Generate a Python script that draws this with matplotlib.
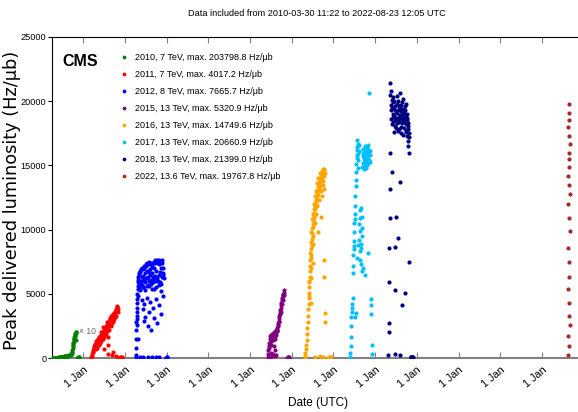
import matplotlib
matplotlib.use("Agg")
import matplotlib.pyplot as plt
import pandas as pd

# the reference text is squeezed sideways, so use the narrower Liberation face for it
NARROW = ['Liberation Sans', 'DejaVu Sans']

# ---- data (day of year, peak lumi in Hz/ub) ----
# 2010 is drawn x10
d2010 = [89, 95, 100, 105, 110, 115, 120, 125, 130, 135, 140, 145, 150, 155, 160, 165, 170, 175,
         180, 185, 190, 195, 200, 205, 210, 215, 220, 225, 230, 235, 240, 245, 250, 255, 260,
         265, 268, 270, 272, 274, 276, 278, 280, 282, 284, 286, 288, 290, 292, 294, 296, 298,
         300, 302, 304, 312, 316, 320, 324, 328, 332]
v2010 = [5, 8, 10, 12, 14, 15, 18, 20, 22, 25, 30, 35, 40, 45, 50, 55, 60, 70,
         80, 90, 100, 110, 120, 130, 140, 150, 160, 170, 180, 190, 200, 220, 240, 260, 300,
         400, 500, 650, 800, 900, 1050, 1200, 1150, 1350, 1500, 1450, 1600, 1700, 1750, 1850, 1900, 2000,
         2038, 1950, 1400, 10, 20, 30, 40, 50, 45]

d2011 = [70, 75, 78, 82, 85, 88, 92, 95, 98, 100, 104, 108, 112, 116, 120, 124, 128, 132, 136, 140,
         144, 148, 152, 156, 160, 164, 168, 172, 176, 180, 184, 188, 192, 196, 200, 204, 208, 212,
         216, 220, 224, 228, 232, 236, 240, 244, 248, 252, 256, 260, 264, 268, 272, 276, 280, 284,
         288, 292, 296, 300, 303, 306, 215, 250, 262, 290, 218, 220, 312, 318, 324, 330, 336, 342,
         110, 130, 150, 170, 190, 210, 230, 245, 270, 285,
         120, 140, 160, 180, 200, 222, 242, 258, 278, 152, 175, 205]
v2011 = [50, 150, 300, 450, 600, 500, 750, 900, 800, 1000, 1100, 950, 1200, 1300, 1400, 1250, 1500,
         1350, 1600, 1550, 1700, 1200, 1750, 1800, 1650, 1900, 2000, 1850, 2100, 2050, 700, 2200,
         2300, 2150, 2400, 2500, 2350, 2600, 2700, 2550, 2800, 2900, 3000, 3100, 2950, 3150, 3250,
         3100, 3300, 3400, 3250, 3450, 3500, 3550, 3600, 3750, 3850, 3900, 3950, 4017, 3800, 3600,
         300, 200, 500, 150, 1000, 1600, 20, 30, 40, 50, 45, 35,
         700, 1100, 1400, 1500, 1800, 2100, 2500, 2600, 3000, 3300,
         800, 1000, 1300, 1600, 1900, 2200, 2500, 2800, 3200, 2000, 2400, 2800]

d2012 = [97, 98, 99, 100, 101, 102, 103, 104, 105, 106, 107, 108, 109, 110, 111, 112, 113, 114, 115,
         116, 118, 120, 122, 124, 126, 128, 130, 133, 136, 139, 142, 145, 148, 151, 154, 157, 160,
         163, 166, 169, 172, 175, 178, 181, 184, 187, 190, 193, 196, 199, 202, 205, 208, 211, 214,
         217, 220, 223, 226, 229, 232, 235, 238, 241, 244, 247, 250, 253, 256, 259, 262, 265, 268,
         271, 274, 277, 280, 283, 286, 289, 292, 295, 298, 301, 304, 307, 310, 313, 316, 319, 322,
         325, 328, 331, 334, 337, 340,
         150, 158, 165, 172, 180, 190, 200, 210, 222, 232, 245, 258, 270, 285, 300, 315, 330,
         130, 160, 200, 240, 270, 300, 356, 360, 365, 370,
         135, 155, 175, 195, 215, 235, 255, 275, 295, 320]
v2012 = [200, 800, 50, 1500, 2200, 2800, 3300, 3600, 2600, 3900, 4300, 4600, 3000, 5000, 5400, 4800,
         5600, 5900, 6100, 1500, 6300, 5400, 6500, 5800, 6600, 5600, 6700, 5300, 6800, 6000, 6900,
         5800, 7000, 6300, 5700, 6900, 6400, 5500, 7200, 6100, 7000, 6600, 5900, 7300, 6200, 7200,
         5600, 7400, 6800, 6300, 7300, 5700, 6700, 7500, 6000, 7300, 6500, 6900, 7400, 5800, 6100,
         7300, 6600, 7100, 5900, 7400, 6300, 7000, 7500, 5400, 7600, 6400, 7400, 6000, 7500, 6800,
         7666, 6200, 7400, 6000, 7500, 6500, 7300, 7600, 5900, 7400, 6700, 7500, 5800, 7000, 7600,
         6300, 7400, 6600, 7000, 6500, 6200,
         4500, 3800, 2900, 4200, 3200, 4700, 2500, 3600, 4400, 2200, 3900, 3100, 4600, 2700, 4100, 3400, 4800,
         50, 80, 60, 40, 100, 60, 20, 30, 50, 40,
         6000, 5500, 5300, 6200, 5600, 5400, 6100, 5500, 5700, 5200]

d2015 = [158, 160, 162, 165, 168, 170, 172, 175, 178, 180, 183, 186, 188, 190, 193, 195, 198, 200,
         203, 206, 208, 210, 213, 216, 218, 220, 222, 225, 228, 230, 233, 235, 238, 240, 243, 245,
         248, 250, 253, 255, 258, 260, 263, 265, 268, 270, 273, 275, 278, 280, 283, 285, 288, 290,
         293, 296, 298, 300, 185, 200, 215, 230, 325, 330, 335, 340, 345]
v2015 = [100, 300, 600, 900, 1200, 800, 1500, 1100, 1700, 400, 1300, 1800, 1000, 1600, 200, 1900,
         1400, 1700, 1500, 1900, 900, 1800, 2000, 1500, 1700, 600, 1900, 2000, 2200, 1800, 2100, 2200,
         2300, 2100, 2500, 2700, 2600, 2900, 3100, 2800, 3300, 3500, 3400, 3700, 3900, 3600, 4100,
         4300, 4200, 4500, 4700, 4500, 4900, 4800, 5000, 5321, 5100, 4900, 100, 300, 150, 250,
         30, 50, 40, 60, 30]

d2016 = [115, 118, 121, 124, 127, 130, 133, 136, 139, 142, 145, 148, 150, 152, 154, 156, 158, 160,
         162, 164, 166, 168, 170, 172, 174, 176, 178, 180, 182, 184, 186, 188, 190, 192, 194, 196,
         198, 200, 202, 205, 208, 211, 214, 217, 220, 223, 226, 229, 232, 235, 238, 241, 244, 247,
         250, 253, 256, 259, 262, 265, 268, 271, 274, 277, 280, 283, 286, 289,
         165, 170, 190, 230, 282, 285, 288, 290, 260,
         200, 250, 275, 315, 322, 330, 338, 345,
         150, 155, 160, 165, 172, 178, 185, 190, 195, 200, 205, 210, 215, 220, 225, 230, 240, 245,
         255, 262, 270, 278, 286]
v2016 = [50, 150, 400, 700, 1000, 1400, 1900, 2300, 2800, 3300, 3800, 4200, 4700, 5100, 5500, 5900,
         6300, 6800, 7200, 7600, 7000, 8000, 8500, 7800, 8900, 9300, 8700, 9700, 10100, 9500, 10400,
         10800, 10200, 11000, 10600, 11300, 11600, 11100, 11800, 12100, 11600, 12300, 12600, 12000,
         12800, 12400, 13000, 12700, 13300, 13000, 13500, 13200, 13700, 13900, 13400, 14000, 14200,
         13800, 14400, 14100, 14600, 14750, 14300, 14500, 14650, 14200, 14700, 14400,
         4300, 6200, 7400, 9800, 7600, 6300, 3500, 2800, 11000,
         100, 150, 80, 20, 30, 40, 50, 40,
         6000, 4800, 8200, 9000, 9800, 10800, 11200, 8900, 12000, 12600, 10500, 13000, 11200, 13600,
         11800, 14000, 12300, 14400, 13000, 12600, 13500, 13800, 13200]

d2017 = [147, 149, 151, 153, 155, 157, 160, 163, 166, 168, 170, 172, 174, 176, 178, 180, 182, 184,
         186, 188, 190, 192, 194, 196, 198, 200, 202, 204, 206, 208, 210, 212, 214, 216, 218, 220,
         222, 224, 226, 228, 230, 232, 234, 236, 238, 240, 242, 244, 246, 248, 250, 252, 254, 256,
         258, 260, 262, 264, 266, 268, 270, 272, 274, 276, 278, 280, 282, 284, 286, 288, 290, 292,
         294, 296, 298, 300, 302, 304, 306, 308, 310, 313, 316, 319, 322, 325, 328, 331, 334, 337,
         185, 195, 205, 215, 260, 280, 300]
v2017 = [100, 400, 900, 1600, 2500, 3200, 3600, 4200, 3900, 4700, 6600, 7200, 8000, 8500, 9100,
         8700, 9800, 10500, 11200, 10800, 11800, 12600, 13400, 13900, 14500, 15100, 15800, 16400,
         15600, 17000, 16200, 15400, 16700, 15900, 14800, 16100, 16600, 10400, 9200, 11500, 8300,
         7600, 9900, 10900, 11700, 8900, 7300, 8600, 10100, 6800, 9500, 11000, 14900, 15700, 16300,
         15200, 16000, 15500, 14700, 16200, 15800, 15100, 16500, 15400, 14900, 15900, 16300, 15600,
         14800, 16000, 15300, 16400, 15700, 15000, 16100, 15500, 16600, 15200, 15900, 16200, 15400,
         20661, 15800, 16100, 15300, 4600, 4100, 3400, 1000, 300,
         3200, 3500, 7800, 8800, 7000, 6500, 8200]

d2018 = [116, 118, 120, 122, 124, 126, 128, 130, 132, 134, 136, 138, 140, 142, 144, 146, 148, 150,
         152, 154, 156, 158, 160, 162, 164, 166, 168, 170, 172, 174, 176, 178, 180, 182, 184, 186,
         188, 190, 192, 194, 196, 198, 200, 202, 204, 206, 208, 210, 212, 214, 216, 218, 220, 222,
         224, 226, 228, 230, 232, 234, 236, 238, 240, 242, 244, 246, 248, 250, 252, 254, 256, 258,
         260, 262, 264, 266, 268, 270, 272, 274, 276, 278, 280, 282, 284, 286, 288, 290, 292, 294,
         296, 298, 300, 176, 220, 310, 314, 318, 322, 326, 330]
v2018 = [200, 2000, 2700, 5900, 8550, 10900, 13200, 16000, 21399, 20500, 19700, 20800, 19300, 18600,
         20100, 14500, 19500, 18200, 20300, 19000, 18400, 19900, 18800, 17600, 19400, 20000, 18900,
         18100, 19600, 8650, 5300, 18500, 19200, 11000, 17900, 18700, 19800, 18300, 20400, 19100,
         17700, 18600, 20000, 19300, 9350, 18800, 19600, 17800, 18400, 19500, 20600, 18900, 13700,
         19200, 18000, 17500, 19700, 18600, 4100, 19000, 18300, 19900, 18700, 17400, 19400, 18500,
         20200, 18800, 17900, 19100, 18400, 19600, 5050, 18600, 19300, 17700, 18900, 19800, 18200,
         17600, 19000, 18500, 17300, 18700, 16500, 18100, 17800, 16900, 18300, 17500, 7500, 16000,
         17200, 300, 250, 50, 60, 80, 100, 90, 70]

d2022 = [226, 240, 230, 243, 234, 238, 228, 241, 236, 232, 244, 239, 231, 242, 235, 229, 237, 233,
         240, 245, 238, 227, 236, 241, 234]
v2022 = [200, 900, 1700, 2600, 3300, 4300, 5400, 6300, 7500, 8600, 9900, 10900, 12000, 12800,
         13500, 14200, 14900, 15500, 16000, 16700, 17300, 18000, 18500, 19100, 19768]

years = [2010, 2011, 2012, 2015, 2016, 2017, 2018, 2022]
days = [d2010, d2011, d2012, d2015, d2016, d2017, d2018, d2022]
vals = [v2010, v2011, v2012, v2015, v2016, v2017, v2018, v2022]
labels = ['2010, 7 TeV, max. 203798.8 Hz/μb',
          '2011, 7 TeV, max. 4017.2 Hz/μb',
          '2012, 8 TeV, max. 7665.7 Hz/μb',
          '2015, 13 TeV, max. 5320.9 Hz/μb',
          '2016, 13 TeV, max. 14749.6 Hz/μb',
          '2017, 13 TeV, max. 20660.9 Hz/μb',
          '2018, 13 TeV, max. 21399.0 Hz/μb',
          '2022, 13.6 TeV, max. 19767.8 Hz/μb']
colors = ['green', 'red', 'blue', 'purple', 'orange', 'deepskyblue', 'navy', 'brown']

tick_dates = ['%d-01-01' % y for y in range(2011, 2023)]
tick_labels = ['1 Jan'] * len(tick_dates)

fig = plt.figure(figsize=(5.78, 4.12), dpi=100)
ax = fig.add_axes([52 / 578, 1 - 358 / 412, 532 / 578, 321 / 412])

for y, d, v, c, lab in zip(years, days, vals, colors, labels):
    t = pd.Timestamp('%d-01-01' % y) + pd.to_timedelta(d, unit='D')
    ax.plot(t, v, 'o', ms=3.0, mec='none', color=c, label=lab, zorder=3)

ax.set_xlim(pd.Timestamp('2010-04-03'), pd.Timestamp('2023-01-04'))
ax.set_ylim(0, 25000)
ax.set_xticks(pd.to_datetime(tick_dates))
ax.set_xticklabels(tick_labels, rotation=40, ha='right', rotation_mode='anchor',
                   family=NARROW, fontsize=7.8)
ax.set_yticks(range(0, 25001, 5000))
for lab in ax.get_yticklabels():
    lab.set_family(NARROW)
    lab.set_fontsize(6.6)

ax.tick_params(axis='x', direction='in', top=True, length=4, color='gray', pad=5)
ax.tick_params(axis='y', direction='out', length=3, pad=1)
ax.spines['bottom'].set_color('gray')
ax.spines['bottom'].set_linewidth(1.5)
ax.spines['right'].set_visible(False)

ax.set_ylabel('Peak delivered luminosity (Hz/μb)', family='DejaVu Sans', fontsize=12.8)
ax.yaxis.set_label_coords(-0.058, 0.49)
ax.set_xlabel('Date (UTC)', family=NARROW, fontsize=8.5)
ax.xaxis.set_label_coords(0.5, -0.12)

ax.text(0.02, 0.925, 'CMS', transform=ax.transAxes, family=NARROW, fontsize=11.5,
        fontweight='bold', va='center', ha='left')
ax.text(pd.Timestamp('2010-11-28'), 2100, '× 10', family=NARROW, fontsize=6.2,
        color='dimgray', va='center', ha='left')

ax.legend(loc='upper left', bbox_to_anchor=(0.126, 0.95), frameon=False, borderaxespad=0,
          borderpad=0, handlelength=1.0, handletextpad=0.8, labelspacing=0.88,
          prop={'family': NARROW, 'size': 6.5}, markerscale=0.9)

fig.text(317 / 578, 1 - 14 / 412, 'Data included from 2010-03-30 11:22 to 2022-08-23 12:05 UTC',
         family=NARROW, fontsize=6.6, ha='center', va='center')

fig.savefig('out.png', dpi=100)
